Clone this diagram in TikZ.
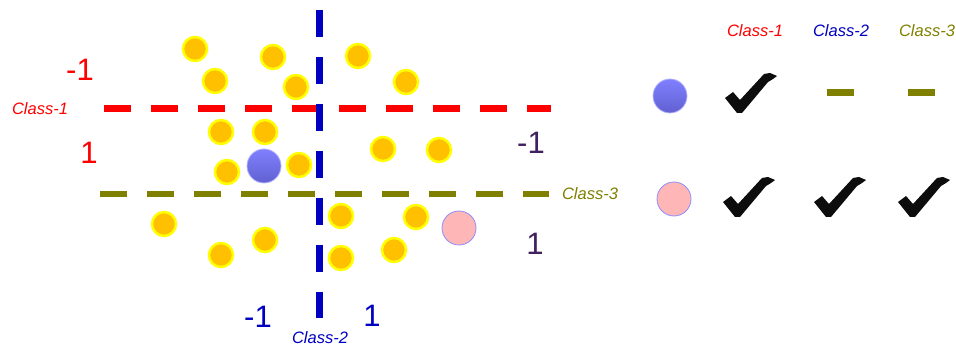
\documentclass[tikz,border=0pt]{standalone}
\usepackage{fontspec}
\setmainfont{Liberation Sans}
\definecolor{cred}{RGB}{255,0,0}
\definecolor{cblue}{RGB}{0,0,192}
\definecolor{colive}{RGB}{128,128,0}
\definecolor{cpurp}{RGB}{64,32,96}
\definecolor{cgold}{RGB}{255,192,0}
\definecolor{cyel}{RGB}{255,255,0}
\definecolor{cpink}{RGB}{255,182,182}
\tikzset{
  dot/.style={circle,minimum size=24pt,inner sep=0pt,fill=cgold,draw=cyel,line width=2.5pt},
  bluedot/.style={circle,minimum size=34pt,inner sep=0pt,top color=blue!50!white,bottom color=blue!55!gray!80,draw=blue!30,line width=0.8pt},
  pinkdot/.style={circle,minimum size=34pt,inner sep=0pt,fill=cpink,draw=blue!45,line width=0.8pt},
  bignum/.style={font=\fontsize{31}{31}\selectfont,inner sep=0pt},
  lab/.style={font=\fontsize{16.5}{17}\selectfont\itshape,inner sep=0pt},
  dline/.style={line width=7pt,dash pattern=on 27pt off 20pt},
  chk/.pic={\fill[black!95] (0,25) -- (8,19) -- (15,27) -- (39,1) -- (45,0) -- (52,3) -- (48,6) -- (43,9) -- (17,40) -- (12,40) -- cycle;},
}
\begin{document}
\begin{tikzpicture}[x=1pt,y=-1pt]
\useasboundingbox (0,0) rectangle (956,347);
% dashed lines
\coordinate (r1) at (104,109); \coordinate (r2) at (551,109);
\draw[dline,cred] (r1) -- (r2);
\coordinate (o1) at (100,194); \coordinate (o2) at (549,194);
\draw[dline,colive,line width=6.5pt] (o1) -- (o2);
\coordinate (b1) at (319,10); \coordinate (b2) at (319,318);
\draw[dline,cblue] (b1) -- (b2);
% gold dots
\foreach \n/\x/\y in {d1/195/49,d2/215/81,d3/273/57,d4/296/87,d5/221/132,d6/265/132,d7/227/172,d8/299/165,
  d9/358/56,d10/406/82,d11/383/149,d12/439/150,d13/164/224,d14/221/255,d15/265/240,
  d16/341/216,d17/416/217,d18/341/258,d19/394/250}
  \node[dot] (\n) at (\x,\y) {};
\node[bluedot] (bq) at (264,166) {};
\node[pinkdot] (pq) at (459,228) {};
% numbers
\node[bignum,text=cred] (rm) at (80,70) {-1};
\node[bignum,text=cred] (rp) at (89,153) {1};
\node[bignum,text=cpurp] (pm) at (531,143) {-1};
\node[bignum,text=cpurp] (pp) at (535,244) {1};
\node[bignum,text=cblue] (bm) at (258,317) {-1};
\node[bignum,text=cblue] (bp) at (372,316) {1};
% labels
\node[lab,text=cred] (l1) at (40,109) {Class-1};
\node[lab,text=colive] (l3) at (590,194) {Class-3};
\node[lab,text=cblue] (l2) at (320,338) {Class-2};
% table
\node[lab,text=cred] (h1) at (755,31) {Class-1};
\node[lab,text=cblue] (h2) at (841,31) {Class-2};
\node[lab,text=colive] (h3) at (927,31) {Class-3};
\node[bluedot] (tb) at (670,96) {};
\node[pinkdot] (tp) at (674,199) {};
\pic at (725,73) {chk};
\node[fill=colive,minimum width=27pt,minimum height=7pt,inner sep=0pt] (m1) at (840,93) {};
\node[fill=colive,minimum width=27pt,minimum height=7pt,inner sep=0pt] (m2) at (921,93) {};
\pic at (723,177) {chk};
\pic at (814,177) {chk};
\pic at (898,177) {chk};
\end{tikzpicture}
\end{document}
